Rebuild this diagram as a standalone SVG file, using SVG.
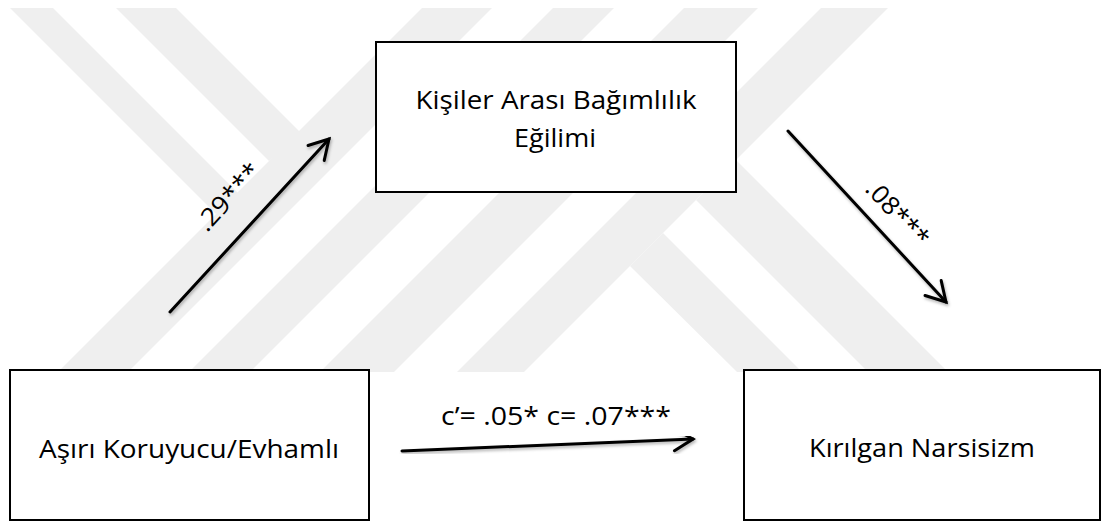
<svg xmlns="http://www.w3.org/2000/svg" width="1102" height="524" viewBox="0 0 1102 524">
  <style>
    .box { fill: #ffffff; stroke: #000000; stroke-width: 2; }
    .lbl { font-family: "Open Sans", "Liberation Sans", sans-serif; font-size: 25px; fill: #000000; }
    .edge { fill: none; stroke: #000000; stroke-width: 3; stroke-linecap: round; filter: url(#shadow); }
    .wm { fill: #efefef; }
  </style>
  <defs>
    <marker id="arrow" markerUnits="userSpaceOnUse" markerWidth="30" markerHeight="30" viewBox="-24 -15 30 30" refX="0" refY="0" orient="auto">
      <path d="M-19,-11 L0,0 L-19,11" fill="none" stroke="#000000" stroke-width="3" stroke-linecap="round" stroke-linejoin="miter"/>
    </marker>
    <filter id="shadow" x="-20%" y="-20%" width="140%" height="140%">
      <feDropShadow dx="1" dy="2" stdDeviation="1.5" flood-color="#000000" flood-opacity="0.3"/>
    </filter>
    <clipPath id="wmclip">
      <rect x="0" y="8" width="1102" height="364"/>
    </clipPath>
  </defs>
  <rect x="0" y="0" width="1102" height="524" fill="#ffffff"/>
  <g id="watermark" class="wm" clip-path="url(#wmclip)">
    <polygon points="422,8 492,8 128,372 58,372"/>
    <polygon points="553,8 614,8 250,372 189,372"/>
    <polygon points="684,8 758,8 394,372 320,372"/>
    <polygon points="821,8 888,8 524,372 457,372"/>
    <polygon points="10,8 53,8 240,195 216,214"/>
    <polygon points="116,8 176,8 302,134 269,161"/>
    <polygon points="736,160 948,372 868,372 696,200"/>
    <polygon points="663,233 802,372 737,372 630,266"/>
  </g>
  <g id="connectors">
    <line class="edge" x1="170" y1="312" x2="329" y2="139" marker-end="url(#arrow)"/>
    <line class="edge" x1="788" y1="131" x2="946" y2="302" marker-end="url(#arrow)"/>
    <line class="edge" x1="402" y1="451" x2="693" y2="439" marker-end="url(#arrow)"/>
    <text class="lbl" x="207" y="233" textLength="82" lengthAdjust="spacingAndGlyphs" transform="rotate(-47.6 207 233)">.29***</text>
    <text class="lbl" x="864" y="190" textLength="80" lengthAdjust="spacingAndGlyphs" transform="rotate(47 864 190)">.08***</text>
    <text class="lbl" x="556" y="425" text-anchor="middle" textLength="230" lengthAdjust="spacingAndGlyphs">c’= .05* c= .07***</text>
  </g>
  <g id="node-mediator">
    <rect class="box" x="376" y="42" width="360" height="150"/>
    <text class="lbl" x="556" y="109" text-anchor="middle" textLength="281" lengthAdjust="spacingAndGlyphs">Kişiler Arası Bağımlılık</text>
    <text class="lbl" x="555" y="147" text-anchor="middle" textLength="82" lengthAdjust="spacingAndGlyphs">Eğilimi</text>
  </g>
  <g id="node-predictor">
    <rect class="box" x="10" y="370" width="359" height="150"/>
    <text class="lbl" x="189" y="458" text-anchor="middle" textLength="300" lengthAdjust="spacingAndGlyphs">Aşırı Koruyucu/Evhamlı</text>
  </g>
  <g id="node-outcome">
    <rect class="box" x="744" y="370" width="356" height="150"/>
    <text class="lbl" x="922" y="457" text-anchor="middle" textLength="226" lengthAdjust="spacingAndGlyphs">Kırılgan Narsisizm</text>
  </g>
</svg>
